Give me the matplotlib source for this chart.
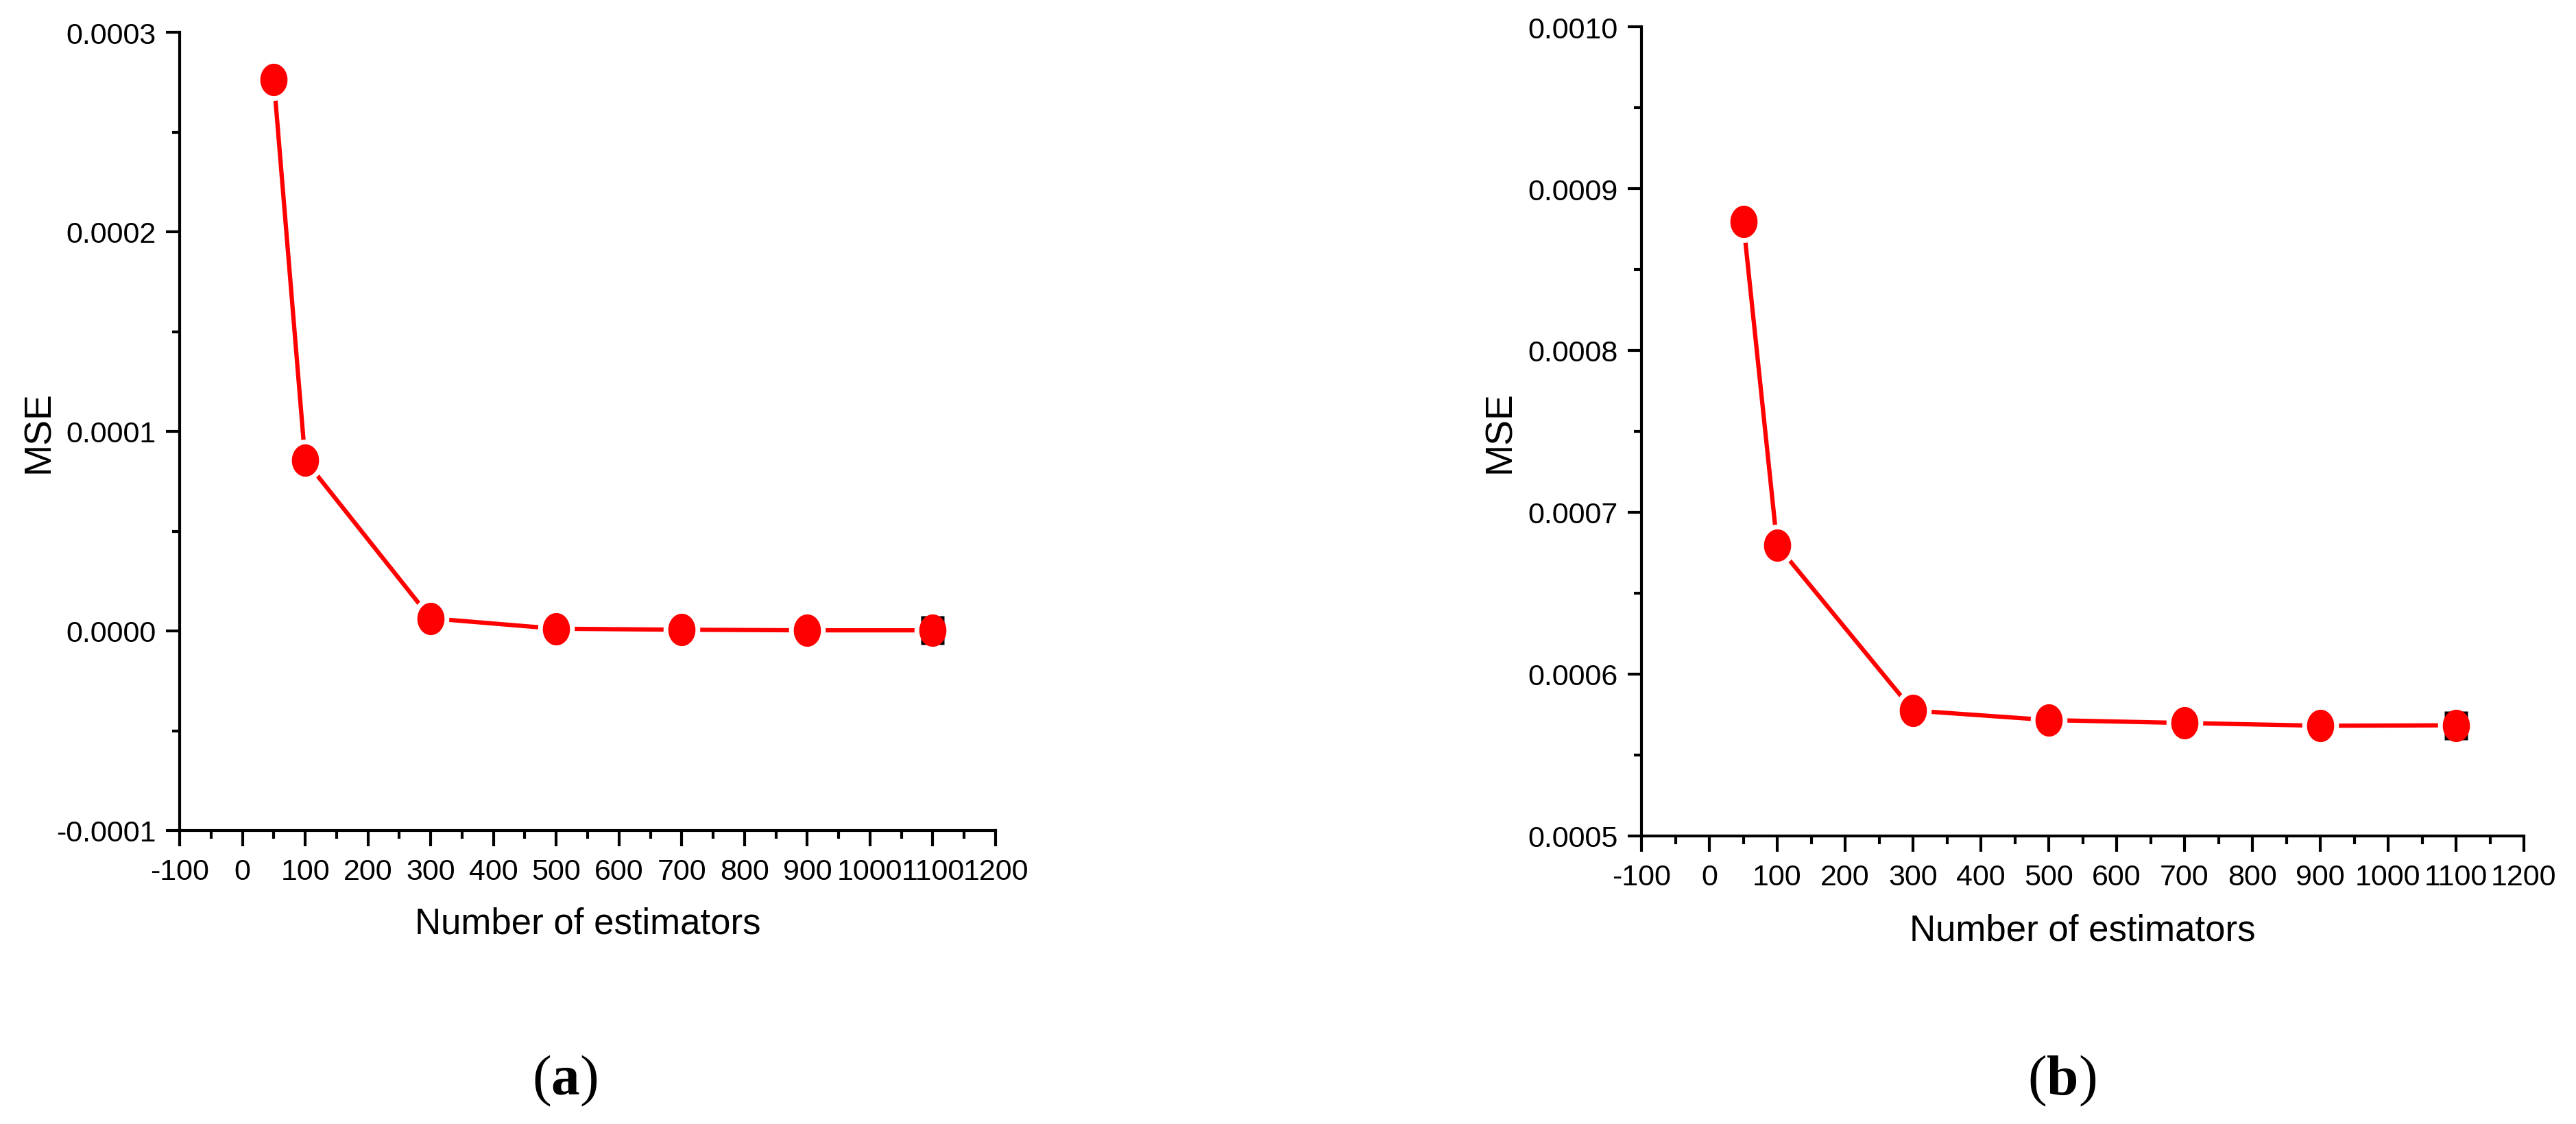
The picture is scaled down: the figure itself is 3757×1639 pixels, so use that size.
import numpy as np
import matplotlib
matplotlib.use("Agg")
import matplotlib.pyplot as plt
from matplotlib import font_manager
from matplotlib.path import Path
from matplotlib.ticker import MultipleLocator, FuncFormatter

# data
n_estimators = [50, 100, 300, 500, 700, 900, 1100]
mse_a = [2.763e-4, 0.855e-4, 0.063e-4, 0.011e-4, 0.006e-4, 0.003e-4, 0.003e-4]
mse_b = [8.796e-4, 6.796e-4, 5.775e-4, 5.716e-4, 5.698e-4, 5.681e-4, 5.684e-4]
captions = ["a", "b"]

plt.rcParams["mathtext.fontset"] = "custom"
plt.rcParams["mathtext.rm"] = "Liberation Serif"
plt.rcParams["mathtext.bf"] = "Liberation Serif:bold"

installed = {f.name for f in font_manager.fontManager.ttflist}
if "Liberation Sans Narrow" in installed:
    narrow, tick_fs, xlab_fs = "Liberation Sans Narrow", 35, 44
else:
    narrow, tick_fs, xlab_fs = "Liberation Sans", 31, 38

# tall ellipse marker and the small black box under the last point
t = np.linspace(0, 2 * np.pi, 73)
ellipse = Path(np.column_stack([0.42 * np.cos(t), 0.5 * np.sin(t)]), closed=True)
box = Path([(-0.4, -0.5), (0.4, -0.5), (0.4, 0.5), (-0.4, 0.5), (-0.4, -0.5)], closed=True)

RED = "#ff0000"


def fmt_y(v, pos):
    s = "%.4f" % v
    return "0.0000" if s == "-0.0000" else s


def panel(ax, y, ylo, yhi, ylab_x, cap, cap_x):
    ax.plot(n_estimators, y, color=RED, lw=4.5, solid_capstyle="round", zorder=2)
    ax.plot(n_estimators, y, ls="none", marker=ellipse, ms=34, mfc="white",
            mec="white", mew=10, zorder=3)
    ax.plot(n_estimators[-1:], y[-1:], ls="none", marker=box, ms=30, mfc="black",
            mec="none", zorder=4)
    ax.plot(n_estimators, y, ls="none", marker=ellipse, ms=34, mfc=RED,
            mec="none", zorder=5)

    ax.set_xlim(-100, 1200)
    ax.set_ylim(ylo, yhi)
    ax.xaxis.set_major_locator(MultipleLocator(100))
    ax.xaxis.set_minor_locator(MultipleLocator(50))
    ax.yaxis.set_major_locator(MultipleLocator(1e-4))
    ax.yaxis.set_minor_locator(MultipleLocator(5e-5))
    ax.xaxis.set_major_formatter(FuncFormatter(lambda v, p: "%d" % round(v)))
    ax.yaxis.set_major_formatter(FuncFormatter(fmt_y))

    for side in ["top", "right"]:
        ax.spines[side].set_visible(False)
    for side in ["left", "bottom"]:
        ax.spines[side].set_linewidth(3)
    ax.tick_params(axis="both", which="both", direction="out", width=3,
                   labelsize=tick_fs, labelfontfamily=narrow)
    ax.tick_params(axis="x", which="major", length=16.5, pad=12)
    ax.tick_params(axis="x", which="minor", length=8.5)
    ax.tick_params(axis="y", which="major", length=14.5, pad=10)
    ax.tick_params(axis="y", which="minor", length=8)

    ax.set_xlabel("Number of estimators", family=narrow, fontsize=xlab_fs)
    ax.xaxis.set_label_coords(0.5, -0.095)
    ax.set_ylabel("MSE", family="Liberation Sans", fontsize=40)
    ax.yaxis.set_label_coords(ylab_x, 0.5)

    fig.text(cap_x, 1 - 1576 / 1640, "(" + r"$\mathbf{%s}$" % cap + ")",
             family="Liberation Serif", fontsize=60, ha="center", va="center")


fig = plt.figure(figsize=(37.57, 16.40), dpi=100)
ax1 = fig.add_axes([262 / 3757, 428 / 1640, 1190 / 3757, 1164 / 1640])
ax2 = fig.add_axes([2394 / 3757, 420 / 1640, 1287 / 3757, 1180 / 1640])

panel(ax1, mse_a, -1e-4, 3e-4, -0.150, captions[0], 824 / 3757)
panel(ax2, mse_b, 5e-4, 10e-4, -0.140, captions[1], 3007 / 3757)

fig.savefig("out.png", dpi=100)
